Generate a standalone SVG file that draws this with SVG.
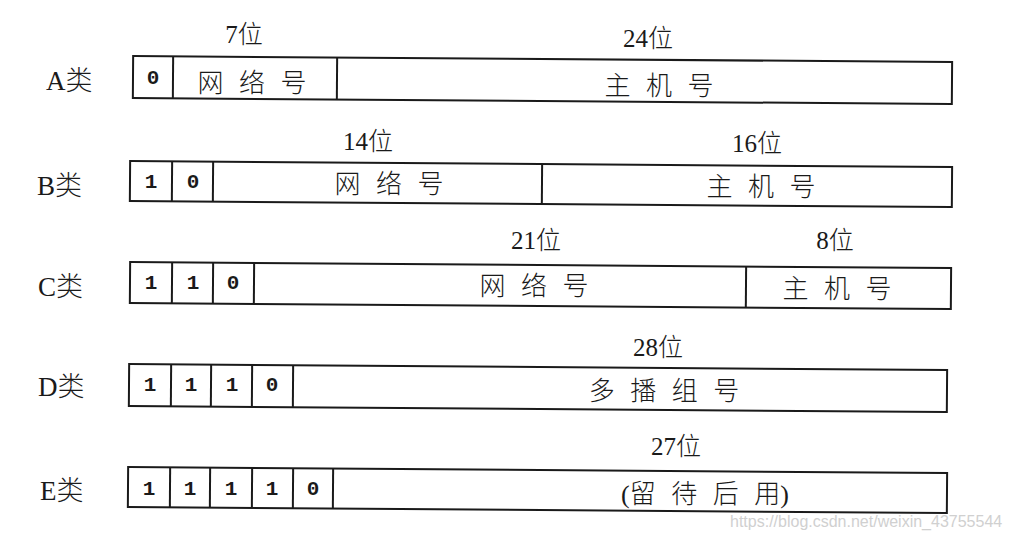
<svg xmlns="http://www.w3.org/2000/svg" width="1011" height="540" viewBox="0 0 1011 540">
<style>
.box{fill:#fff;stroke:#1a1a1a;stroke-width:2}
.div{stroke:#1a1a1a;stroke-width:2}
.lbl{font-family:"Liberation Serif","Noto Sans CJK SC",serif;font-size:27px;font-weight:300;fill:#1a1a1a}
.bits{font-family:"Liberation Serif","Noto Sans CJK SC",serif;font-size:25px;font-weight:300;fill:#1a1a1a;text-anchor:middle}
.fld{font-family:"Liberation Serif","Noto Sans CJK SC",serif;font-size:26px;fill:#1a1a1a;text-anchor:middle;font-weight:300;word-spacing:9px}
.dig{font-family:"Liberation Mono",monospace;font-size:21px;font-weight:bold;fill:#1a1a1a;text-anchor:middle}
.wm{font-family:"Liberation Sans",Arial,sans-serif;font-size:16px;fill:#d0d0d0}
</style>
<rect width="1011" height="540" fill="#fff"/>

<g id="classA">
  <text class="lbl" x="46" y="90">A类</text>
  <text class="bits" x="244" y="43">7位</text>
  <text class="bits" x="648" y="47">24位</text>
  <g transform="rotate(0.42 133 77)">
    <rect class="box" x="133" y="56" width="819" height="42"/>
    <line class="div" x1="173" y1="56" x2="173" y2="98"/>
    <line class="div" x1="337" y1="56" x2="337" y2="98"/>
  </g>
  <text class="dig" x="153" y="84">0</text>
  <text class="fld" x="252" y="92">网 络 号</text>
  <text class="fld" x="659" y="95">主 机 号</text>
</g>

<g id="classB">
  <text class="lbl" x="37" y="195">B类</text>
  <text class="bits" x="368" y="150">14位</text>
  <text class="bits" x="757" y="152">16位</text>
  <g transform="rotate(0.42 130 180)">
    <rect class="box" x="130" y="161" width="822" height="40"/>
    <line class="div" x1="172" y1="161" x2="172" y2="201"/>
    <line class="div" x1="213" y1="161" x2="213" y2="201"/>
    <line class="div" x1="542" y1="161" x2="542" y2="201"/>
  </g>
  <text class="dig" x="151" y="188">1</text>
  <text class="dig" x="193" y="188">0</text>
  <text class="fld" x="389" y="193">网 络 号</text>
  <text class="fld" x="761" y="196">主 机 号</text>
</g>

<g id="classC">
  <text class="lbl" x="38" y="296">C类</text>
  <text class="bits" x="536" y="249">21位</text>
  <text class="bits" x="835" y="249">8位</text>
  <g transform="rotate(0.42 130 282)">
    <rect class="box" x="130" y="262" width="821" height="41"/>
    <line class="div" x1="172" y1="262" x2="172" y2="303"/>
    <line class="div" x1="213" y1="262" x2="213" y2="303"/>
    <line class="div" x1="254" y1="262" x2="254" y2="303"/>
    <line class="div" x1="746" y1="262" x2="746" y2="303"/>
  </g>
  <text class="dig" x="151" y="289">1</text>
  <text class="dig" x="193" y="289">1</text>
  <text class="dig" x="233" y="289">0</text>
  <text class="fld" x="534" y="295">网 络 号</text>
  <text class="fld" x="837" y="298">主 机 号</text>
</g>

<g id="classD">
  <text class="lbl" x="38" y="396">D类</text>
  <text class="bits" x="658" y="356">28位</text>
  <g transform="rotate(0.42 129 385)">
    <rect class="box" x="129" y="364" width="818" height="42"/>
    <line class="div" x1="171" y1="364" x2="171" y2="406"/>
    <line class="div" x1="211" y1="364" x2="211" y2="406"/>
    <line class="div" x1="252" y1="364" x2="252" y2="406"/>
    <line class="div" x1="293" y1="364" x2="293" y2="406"/>
  </g>
  <text class="dig" x="150" y="391">1</text>
  <text class="dig" x="191" y="391">1</text>
  <text class="dig" x="232" y="391">1</text>
  <text class="dig" x="272" y="391">0</text>
  <text class="fld" x="664" y="400">多 播 组 号</text>
</g>

<g id="classE">
  <text class="lbl" x="40" y="500">E类</text>
  <text class="bits" x="676" y="455">27位</text>
  <g transform="rotate(0.42 128 487)">
    <rect class="box" x="128" y="467" width="819" height="40"/>
    <line class="div" x1="170" y1="467" x2="170" y2="507"/>
    <line class="div" x1="210" y1="467" x2="210" y2="507"/>
    <line class="div" x1="252" y1="467" x2="252" y2="507"/>
    <line class="div" x1="293" y1="467" x2="293" y2="507"/>
    <line class="div" x1="333" y1="467" x2="333" y2="507"/>
  </g>
  <text class="dig" x="149" y="495">1</text>
  <text class="dig" x="190" y="495">1</text>
  <text class="dig" x="231" y="495">1</text>
  <text class="dig" x="272" y="495">1</text>
  <text class="dig" x="313" y="495">0</text>
  <text class="fld" x="705" y="503">(留 待 后 用)</text>
</g>

<g id="connectors"/>

<text class="wm" x="730" y="527">https://blog.csdn.net/weixin_43755544</text>
</svg>
